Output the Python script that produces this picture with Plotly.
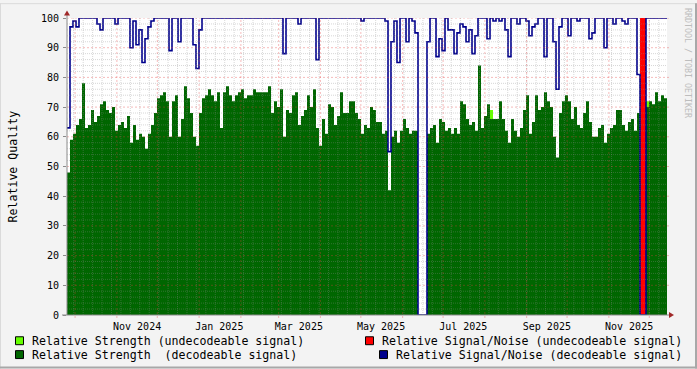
import plotly.graph_objects as go
import pandas as pd

# ---------------- data (one value per ~2.2 days bin) ----------------
start = pd.Timestamp("2024-09-25")
days_per_px = 365 / 492
n_bins = 200

strength_dec = [
    48, 59, 61, 64, 66, 78, 63, 64, 69, 65, 67, 71, 72, 69, 68, 70, 62, 64, 65, 63,
    67, 58, 64, 59, 61, 60, 56, 61, 64, 68, 73, 74, 75, 72, 60, 72, 74, 60, 66, 77,
    73, 68, 60, 57, 68, 73, 74, 76, 74, 72, 75, 63, 75, 77, 74, 72, 74, 75, 76, 73,
    74, 74, 76, 75, 75, 75, 75, 77, 68, 72, 70, 76, 60, 69, 68, 74, 75, 64, 67, 69,
    74, 70, 76, 63, 57, 66, 61, 71, 70, 64, 67, 75, 68, 68, 72, 72, 68, 66, 61, 64,
    63, 70, 69, 65, 65, 61, 62, 42, 60, 62, 58, 62, 66, 63, 61, 62, 62, 0, 0, 0,
    61, 63, 64, 58, 66, 65, 62, 63, 61, 63, 61, 72, 71, 66, 64, 65, 62, 84, 63, 67,
    71, 66, 66, 66, 72, 66, 62, 58, 66, 62, 60, 63, 69, 74, 61, 65, 74, 69, 70, 75,
    72, 70, 60, 53, 68, 72, 74, 72, 66, 70, 64, 63, 68, 72, 65, 60, 60, 63, 64, 58,
    61, 63, 64, 69, 69, 64, 62, 65, 66, 62, 68, 0, 0, 70, 72, 71, 75, 72, 74, 73,
]

snr_dec = [
    63, 97, 99, 97, 100, 100, 100, 100, 100, 100, 98, 96, 100, 100, 100, 100, 98, 100, 100, 100,
    100, 90, 99, 91, 96, 85, 93, 97, 99, 100, 100, 100, 100, 100, 89, 100, 100, 92, 100, 100,
    100, 100, 91, 83, 96, 100, 100, 100, 100, 100, 100, 100, 100, 100, 100, 100, 100, 100, 100, 100,
    100, 100, 100, 100, 100, 100, 100, 100, 100, 100, 100, 100, 88, 100, 100, 100, 100, 98, 100, 100,
    100, 100, 100, 86, 100, 100, 100, 100, 100, 100, 100, 100, 100, 100, 100, 100, 100, 100, 99, 100,
    100, 100, 100, 100, 100, 100, 99, 55, 92, 99, 85, 100, 100, 92, 100, 99, 95, 0, 0, 0,
    92, 100, 100, 87, 93, 89, 100, 96, 96, 88, 95, 98, 97, 92, 96, 88, 94, 100, 100, 100,
    93, 100, 99, 100, 99, 100, 96, 87, 100, 100, 98, 100, 100, 99, 94, 97, 98, 100, 100, 87,
    100, 100, 92, 76, 97, 100, 100, 94, 100, 100, 99, 100, 100, 100, 93, 95, 100, 100, 100, 90,
    100, 100, 98, 100, 100, 99, 98, 100, 100, 100, 81, 0, 0, 100, 100, 100, 100, 100, 100, 100,
]

strength_undec = [0] * 141 + [69] + [0] * 51 + [72] + [0] * 6
snr_undec = [0] * 191 + [100, 100] + [0] * 7

tick_dates = ["2024-11-16", "2025-01-16", "2025-03-16", "2025-05-16",
              "2025-07-16", "2025-09-16", "2025-11-16"]
tick_labels = ["Nov 2024", "Jan 2025", "Mar 2025", "May 2025",
               "Jul 2025", "Sep 2025", "Nov 2025"]

legend_items = [
    ("Relative Strength (undecodeable signal)", "#66FF00"),
    ("Relative Signal/Noise (undecodeable signal)", "#FF0000"),
    ("Relative Strength\u00a0\u00a0(decodeable signal)", "#006600"),
    ("Relative Signal/Noise (decodeable signal)", "#00008C"),
]

# ---------------- layout geometry ----------------
W, H = 697, 369
L, R, T, B = 67, 667, 15, 315
end = start + pd.Timedelta(days=(R - L) * days_per_px)
edges = pd.date_range(start, end, periods=n_bins + 1)

MONO = "DejaVu Sans Mono"


def px(xp):
    return (xp - L) / (R - L)


def py(yp):
    return (B - yp) / (B - T)


def stepped(vals):
    return list(vals) + [vals[-1]]


fig = go.Figure()
fig.add_trace(go.Scatter(x=edges, y=stepped(strength_undec), mode="lines", line_shape="hv",
                         line=dict(width=0), fill="tozeroy", fillcolor="#66FF00",
                         showlegend=False, hoverinfo="skip"))
fig.add_trace(go.Scatter(x=edges, y=stepped(strength_dec), mode="lines", line_shape="hv",
                         line=dict(width=0), fill="tozeroy", fillcolor="#006600",
                         showlegend=False, hoverinfo="skip"))
fig.add_trace(go.Scatter(x=edges, y=stepped(snr_undec), mode="lines", line_shape="hv",
                         line=dict(width=0), fill="tozeroy", fillcolor="#FF0000",
                         showlegend=False, hoverinfo="skip"))
fig.add_trace(go.Scatter(x=edges, y=stepped(snr_dec), mode="lines", line_shape="hv",
                         line=dict(width=1.6, color="#00008C"), cliponaxis=False,
                         showlegend=False, hoverinfo="skip"))

shapes = []
minor_col = "rgba(140,140,140,0.35)"
major_col = "rgba(230,60,60,0.35)"
# horizontal grid
for v in range(2, 101, 2):
    if v % 10 == 0:
        shapes.append(dict(type="line", xref="paper", yref="y", x0=px(L), x1=px(R + 2),
                           y0=v, y1=v, line=dict(color=major_col, width=1, dash="2px,2px"),
                           layer="above"))
    else:
        shapes.append(dict(type="line", xref="paper", yref="y", x0=0, x1=1, y0=v, y1=v,
                           line=dict(color=minor_col, width=1, dash="1px,1px"), layer="above"))
# vertical grid: weekly minor, monthly major
for d in pd.date_range("2024-09-30", end, freq="7D"):
    shapes.append(dict(type="line", xref="x", yref="paper", x0=d, x1=d, y0=0, y1=1,
                       line=dict(color=minor_col, width=1, dash="1px,1px"), layer="above"))
for d in pd.date_range("2024-10-01", end, freq="MS"):
    shapes.append(dict(type="line", xref="x", yref="paper", x0=d, x1=d, y0=py(B + 3), y1=1,
                       line=dict(color=major_col, width=1, dash="2px,2px"), layer="above"))

axis_col = "#8A8A8A"
arrow_col = "#A02828"
# axes
shapes.append(dict(type="line", xref="paper", yref="paper", x0=px(L), x1=px(L),
                   y0=py(B), y1=py(10), line=dict(color=axis_col, width=1), layer="above"))
shapes.append(dict(type="line", xref="paper", yref="paper", x0=px(62), x1=px(670),
                   y0=py(B), y1=py(B), line=dict(color=axis_col, width=1), layer="above"))
# arrows
shapes.append(dict(type="path", xref="paper", yref="paper",
                   path=f"M {px(64)} {py(12.5)} L {px(70)} {py(12.5)} L {px(67)} {py(7.5)} Z",
                   fillcolor=arrow_col, line=dict(width=0), layer="above"))
shapes.append(dict(type="path", xref="paper", yref="paper",
                   path=f"M {px(669)} {py(312)} L {px(669)} {py(318)} L {px(674)} {py(315)} Z",
                   fillcolor=arrow_col, line=dict(width=0), layer="above"))
# frame
shapes.append(dict(type="line", xref="paper", yref="paper", x0=px(0), x1=px(W),
                   y0=py(0.5), y1=py(0.5), line=dict(color="#DADADA", width=1)))
shapes.append(dict(type="line", xref="paper", yref="paper", x0=px(0.5), x1=px(0.5),
                   y0=py(0), y1=py(H), line=dict(color="#DADADA", width=1)))
shapes.append(dict(type="line", xref="paper", yref="paper", x0=px(0), x1=px(W),
                   y0=py(H - 1), y1=py(H - 1), line=dict(color="#A8A8A8", width=2)))
shapes.append(dict(type="line", xref="paper", yref="paper", x0=px(W - 1), x1=px(W - 1),
                   y0=py(0), y1=py(H), line=dict(color="#A8A8A8", width=2)))

annotations = []
# legend
leg_pos = [(15.5, 341, 30), (365.5, 341, 380), (15.5, 355, 30), (379.5, 355, 394)]
for (label, col), (sx, cy, tx) in zip(legend_items, leg_pos):
    shapes.append(dict(type="rect", xref="paper", yref="paper",
                       x0=px(sx), x1=px(sx + 8), y0=py(cy - 4), y1=py(cy + 4),
                       fillcolor=col, line=dict(color="#000000", width=1)))
    annotations.append(dict(xref="paper", yref="paper", x=px(tx), y=py(cy), text=label,
                            showarrow=False, xanchor="left", yanchor="middle",
                            font=dict(family=MONO, size=11.6, color="#000000")))

annotations.append(dict(xref="paper", yref="paper", x=px(12), y=py(165), text="Relative Quality",
                        showarrow=False, textangle=-90, xanchor="center", yanchor="middle",
                        font=dict(family=MONO, size=11.6, color="#000000")))
annotations.append(dict(xref="paper", yref="paper", x=px(688.5), y=py(60),
                        text="RRDTOOL / TOBI OETIKER", showarrow=False, textangle=90,
                        xanchor="center", yanchor="middle",
                        font=dict(family=MONO, size=8.3, color="#BDBDBD")))

fig.update_layout(
    width=W, height=H, autosize=False,
    margin=dict(l=L, r=W - R, t=T, b=H - B, pad=0),
    paper_bgcolor="#F3F3F3", plot_bgcolor="#FFFFFF",
    shapes=shapes, annotations=annotations, showlegend=False,
    xaxis=dict(type="date", range=[start, end], showgrid=False, zeroline=False,
               showline=False, tickmode="array", tickvals=tick_dates, ticktext=tick_labels,
               ticks="outside", ticklen=2, tickcolor="rgba(0,0,0,0)",
               tickfont=dict(family=MONO, size=10, color="#000000"),
               fixedrange=True),
    yaxis=dict(range=[0, 100], tickmode="linear", tick0=0, dtick=10, showgrid=False,
               zeroline=False, showline=False, ticks="outside", ticklen=3,
               tickcolor=axis_col, ticklabelstandoff=2,
               tickfont=dict(family=MONO, size=10, color="#000000"), fixedrange=True),
)

fig.write_html("out.html")
